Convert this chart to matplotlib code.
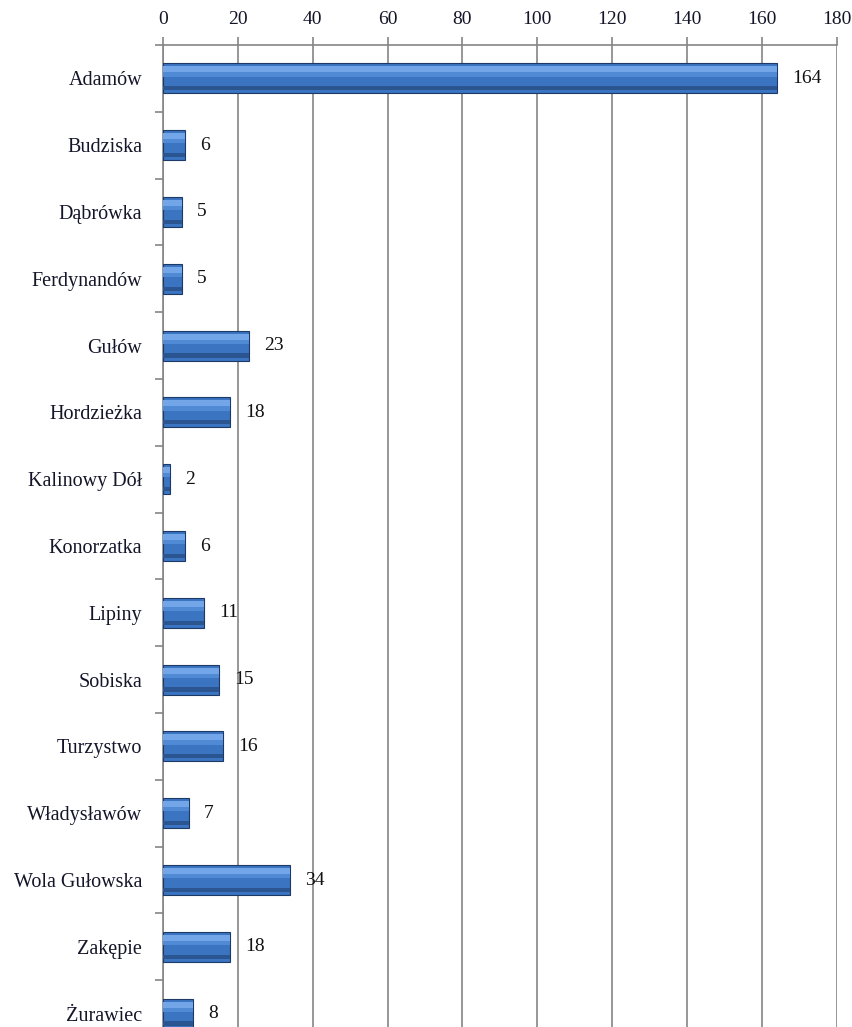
import numpy as np
import matplotlib.pyplot as plt
from matplotlib.ticker import MultipleLocator

# dane
miejscowosci = ['Adamów', 'Budziska', 'Dąbrówka', 'Ferdynandów', 'Gułów', 'Hordzieżka',
                'Kalinowy Dół', 'Konorzatka', 'Lipiny', 'Sobiska', 'Turzystwo',
                'Władysławów', 'Wola Gułowska', 'Zakępie', 'Żurawiec']
wartosci = [164, 6, 5, 5, 23, 18, 2, 6, 11, 15, 16, 7, 34, 18, 8]

plt.rcParams['font.family'] = ['Liberation Serif', 'DejaVu Serif']

fig = plt.figure(figsize=(8.53, 10.27), dpi=100)
ax = fig.add_axes([0.191, -0.0195, 0.79, 0.9757])

y = np.arange(len(miejscowosci))
h = 0.45
ax.barh(y, wartosci, height=h, color='#3b74c0', edgecolor='#1d3a66', linewidth=0.8, zorder=3)
# jasniejsze i ciemniejsze paski (efekt 3D)
ax.barh(y - h * 0.3, wartosci, height=h * 0.2, color='#72a6e8', linewidth=0, zorder=4)
ax.barh(y - h * 0.13, wartosci, height=h * 0.14, color='#5089d4', linewidth=0, zorder=4)
ax.barh(y + h * 0.33, wartosci, height=h * 0.14, color='#2a5590', linewidth=0, zorder=4)

for yi, v in zip(y, wartosci):
    ax.text(v + 4, yi, str(v), va='center', ha='left', fontsize=14, color='#111111', zorder=5)

ax.set_xlim(0, 180)
ax.set_ylim(len(miejscowosci) - 0.5, -0.5)
ax.xaxis.set_major_locator(MultipleLocator(20))
ax.xaxis.tick_top()
ax.grid(axis='x', color='#858585', linewidth=1.2, zorder=0)

ax.set_yticks(y)
ax.set_yticklabels(miejscowosci)
ax.set_yticks(np.arange(len(miejscowosci) + 1) - 0.5, minor=True)
ax.tick_params(axis='y', which='major', length=0, pad=15, labelsize=14.5, labelcolor='#15152a')
ax.tick_params(axis='y', which='minor', length=6, color='#858585', width=1.2)
ax.tick_params(axis='x', which='major', length=6, color='#858585', width=1.2, pad=6,
               labelsize=14, labelcolor='#15152a')

for s in ['right', 'bottom']:
    ax.spines[s].set_visible(False)
for s in ['top', 'left']:
    ax.spines[s].set_color('#858585')
    ax.spines[s].set_linewidth(1.2)

fig.savefig('out.png', dpi=100)
